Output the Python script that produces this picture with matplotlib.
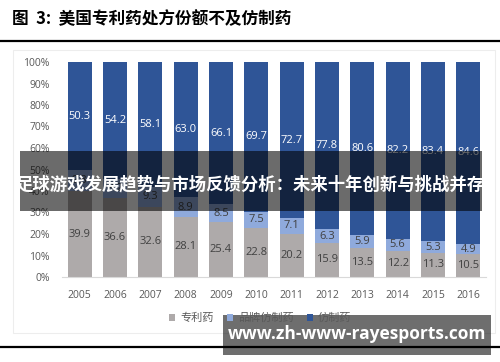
import matplotlib
matplotlib.use("Agg")
import matplotlib.pyplot as plt
from matplotlib.patches import Rectangle
import numpy as np

plt.rcParams['font.family'] = ['Noto Sans CJK SC', 'DejaVu Sans']

years = ["2005", "2006", "2007", "2008", "2009", "2010",
         "2011", "2012", "2013", "2014", "2015", "2016"]
patent = [39.9, 36.6, 32.6, 28.1, 25.4, 22.8, 20.2, 15.9, 13.5, 12.2, 11.3, 10.5]
brand_generic = [9.8, 9.2, 9.3, 8.9, 8.5, 7.5, 7.1, 6.3, 5.9, 5.6, 5.3, 4.9]
generic = [50.3, 54.2, 58.1, 63.0, 66.1, 69.7, 72.7, 77.8, 80.6, 82.2, 83.4, 84.6]
series_names = ["专利药", "品牌仿制药", "仿制药"]
colors = ["#AEAAAA", "#8FAADC", "#2F5597"]
label_colors = ["#404040", "#404040", "white"]

W, H = 500, 362
fig = plt.figure(figsize=(W / 100, H / 100), dpi=100)

def fx(px):
    return px / W

def fy(py):
    return 1 - py / H

# title and rule
fig.text(fx(12), fy(19), "图  3:  美国专利药处方份额不及仿制药", fontsize=12,
         fontweight="bold", ha="left", va="center", color="black")
fig.add_artist(plt.Line2D([0, 1], [fy(41), fy(41)], color="black", lw=1.6))

# faint chart frame
fig.add_artist(Rectangle((fx(13), fy(333)), fx(482), fy(50) - fy(333),
                         fill=False, ec="#EDEDED", lw=0.8))

ax = fig.add_axes([fx(62), fy(277), fx(424), fy(62) - fy(277)])
x = np.arange(len(years))
bottom = np.zeros(len(years))
for vals, name, c, lc in zip([patent, brand_generic, generic], series_names, colors, label_colors):
    vals = np.array(vals)
    ax.bar(x, vals / 100, bottom=bottom / 100, width=0.68, color=c, label=name)
    for xi, v, b in zip(x, vals, bottom):
        ax.text(xi, (b + v / 2) / 100, f"{v:.1f}", ha="center", va="center",
                fontsize=8, color=lc, family=["Open Sans", "DejaVu Sans"])
    bottom = bottom + vals

ax.set_xlim(-0.5, len(years) - 0.5)
ax.set_ylim(0, 1)
ax.set_xticks(x)
ax.set_xticklabels(years, fontsize=7.5, color="#595959", family=["Open Sans", "DejaVu Sans"])
ax.set_yticks(np.arange(0, 1.01, 0.1))
ax.set_yticklabels([f"{int(round(t * 100))}%" for t in np.arange(0, 1.01, 0.1)],
                   fontsize=7.5, color="#595959", family=["Open Sans", "DejaVu Sans"])
ax.tick_params(length=0, pad=9)
ax.tick_params(axis="x", pad=9)
for s in ["top", "right", "left"]:
    ax.spines[s].set_visible(False)
ax.spines["bottom"].set_color("#D9D9D9")

leg = fig.legend(loc="center", bbox_to_anchor=(fx(260), fy(318)), ncol=3, frameon=False,
                 fontsize=8, handlelength=0.6, handleheight=0.6, handletextpad=0.4,
                 columnspacing=1.2)
for t in leg.get_texts():
    t.set_color("#595959")

# bottom rule
fig.add_artist(plt.Line2D([0, 1], [fy(347), fy(347)], color="black", lw=1.6))

# overlay banner
fig.add_artist(Rectangle((fx(20), fy(211)), fx(462), fy(151) - fy(211),
                         color="black", alpha=0.58, lw=0))
fig.text(fx(250), fy(184), "足球游戏发展趋势与市场反馈分析：未来十年创新与挑战并存",
         fontsize=12.5, fontweight="bold", color="white", ha="center", va="center")

# watermark
fig.add_artist(Rectangle((fx(223), fy(355)), fx(268), fy(315) - fy(355),
                         color="black", alpha=0.57, lw=0))
fig.text(fx(357), fy(334), "www.zh-www-rayesports.com", fontsize=12.5, fontweight="bold",
         color="white", ha="center", va="center", family=["Open Sans", "DejaVu Sans"])

fig.savefig("out.png", dpi=100)
